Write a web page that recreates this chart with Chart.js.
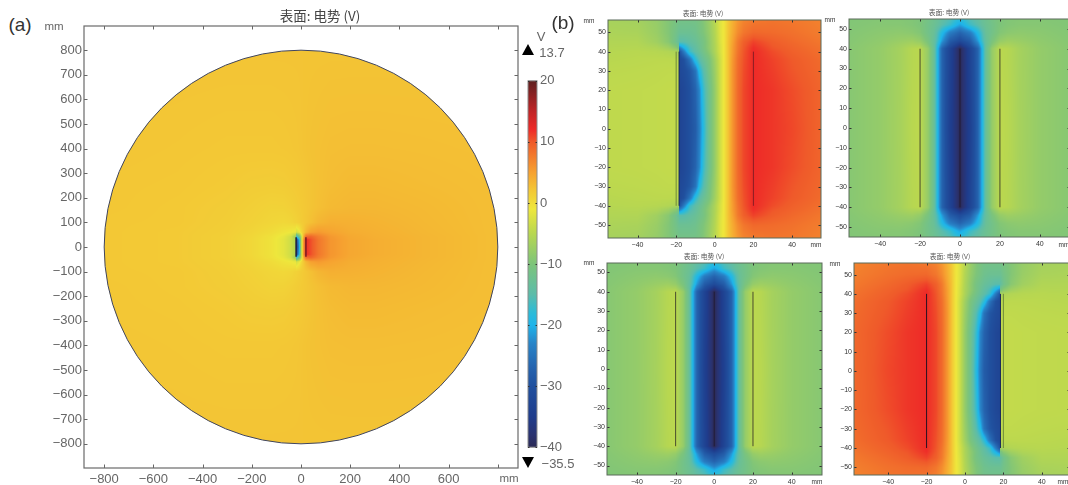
<!DOCTYPE html>
<html>
<head>
<meta charset="utf-8">
<title>表面: 电势 (V)</title>
<script src="https://cdn.jsdelivr.net/npm/chart.js@4"></script>
<style>
  html, body { margin: 0; padding: 0; background: #fff; }
  body { position: relative; width: 1068px; height: 485px; overflow: hidden; font-family: "Liberation Sans", sans-serif; }
  canvas { position: absolute; }
  .txt { position: absolute; white-space: nowrap; transform: translate(-50%, -50%); line-height: 1; }
  .tri { position: absolute; width: 0; height: 0; border-left: 6.5px solid transparent; border-right: 6.5px solid transparent; }
</style>
</head>
<body>
<script>
// ---- colour scale (V) ----
const colorValues = [-40, -38, -35, -30, -27, -23, -20, -18, -15, -10, -5, -1, 2, 5, 10, 12, 15, 20];
const colorHexes = ["#2b2a55", "#2a3270", "#1f3c8c", "#20509e", "#2563ae", "#2884c8", "#1eb4ea", "#2cbbd8", "#5cbcaa", "#7dc47a", "#b8d750", "#eee73c", "#f3c835", "#f6a130", "#ef5a2a", "#ee2a28", "#c02426", "#5e2020"];
const colorBarTicks = [-40, -30, -20, -10, 0, 10, 20];

// ---- tick labels ----
const mainXTicks = [-800, -600, -400, -200, 0, 200, 400, 600, 800];
const mainYTicks = [-800, -700, -600, -500, -400, -300, -200, -100, 0, 100, 200, 300, 400, 500, 600, 700, 800];
const smallXTicks = [-40, -20, 0, 20, 40];
const smallYTicks = [-50, -40, -30, -20, -10, 0, 10, 20, 30, 40, 50];
const plateEnds = [-40, 40];

// ---- (a) disc, upper half ----
const discX = [-800, -500, -300, -200, -120, -70, -40, -19, -19, -7, 0, 8, 20, 40, 70, 120, 200, 300, 500, 800];
const discY = [0, 30, 42, 60, 100, 160, 250, 400, 800];
const discV = [
  [2.0, 1.8, 1.3, 0.5, -0.5, -1.8, -3.5, -6, -33, -21, -7, 4, 12, 10.5, 8, 5.8, 4.5, 4.0, 3.4, 2.7],
  [2.0, 1.8, 1.3, 0.5, -0.5, -1.8, -3.5, -6, -31, -19, -7, 4, 12, 10.5, 8, 5.8, 4.5, 4.0, 3.4, 2.7],
  [2.0, 1.8, 1.3, 0.6, -0.4, -1.5, -3.2, -8, -18, -12, -6, 2.5, 9, 9.2, 7.5, 5.6, 4.4, 3.9, 3.4, 2.7],
  [2.0, 1.8, 1.4, 0.8, 0.1, -0.6, -1.0, -1.5, -3, -1.5, 0, 1.5, 3.3, 5, 5.5, 4.8, 4.1, 3.8, 3.3, 2.7],
  [2.0, 1.9, 1.5, 1.1, 0.7, 0.5, 0.7, 1.1, 1.1, 1.4, 1.6, 1.8, 2.1, 2.6, 3.4, 3.9, 3.8, 3.6, 3.2, 2.7],
  [2.1, 1.9, 1.6, 1.3, 1.0, 1.05, 1.3, 1.55, 1.55, 1.7, 1.8, 1.9, 2.05, 2.3, 2.65, 3.1, 3.3, 3.3, 3.1, 2.7],
  [2.1, 2.0, 1.8, 1.6, 1.55, 1.6, 1.75, 1.85, 1.85, 1.95, 2.0, 2.05, 2.15, 2.3, 2.55, 2.85, 3.05, 3.05, 2.9, 2.7],
  [2.2, 2.1, 2.0, 2.0, 2.0, 2.05, 2.1, 2.15, 2.15, 2.2, 2.25, 2.3, 2.35, 2.45, 2.55, 2.7, 2.75, 2.75, 2.7, 2.6],
  [2.3, 2.3, 2.3, 2.3, 2.3, 2.3, 2.3, 2.3, 2.3, 2.3, 2.3, 2.3, 2.3, 2.3, 2.3, 2.3, 2.3, 2.3, 2.3, 2.3]
];

// ---- (b) left/right excited plates (upper half) ----
const sideX = [-58, -40, -30, -24, -20, -18.5, -18.5, -16, -13, -10, -8, -6, -3, 0, 3, 5, 7, 9, 12, 15, 20, 30, 40, 58];
const sideY = [0, 20, 30, 36, 40, 42, 45, 50, 58];
const sideV = [
  [-4.5, -4.4, -4.3, -4.2, -4.2, -4.2, -33, -32, -30, -28, -24, -19, -12, -8, -3, -0.5, 2.5, 5.5, 9, 10.8, 12, 11.5, 10.8, 9],
  [-4.5, -4.4, -4.3, -4.2, -4.2, -4.2, -33, -32, -30, -27, -23, -17.5, -12, -8, -3, -0.5, 2.5, 5.5, 9, 10.8, 12, 11.5, 10.6, 9],
  [-4.7, -4.6, -4.5, -4.4, -4.4, -4.4, -32, -31, -29, -25, -19, -15.5, -11, -7.5, -3, -0.5, 2.5, 5.5, 8.8, 10.6, 12, 11.2, 10.2, 8.8],
  [-5, -4.8, -4.7, -4.7, -4.8, -4.8, -32, -30, -25, -18, -15, -13, -10.5, -7, -3, -0.5, 2.5, 5.3, 8.6, 10.4, 12, 11, 10, 8.6],
  [-5.2, -5, -5.2, -5.5, -6, -6.5, -30, -24, -17, -14.5, -13, -11.5, -9, -6, -2.5, -0.5, 2.5, 5, 8.2, 10.2, 12, 10.6, 9.6, 8.3],
  [-5.4, -5.3, -5.8, -7, -9, -11, -24, -20, -16, -14, -12.5, -11, -8.5, -6, -2.5, -0.5, 2.5, 5, 8, 10, 11.8, 10.2, 9.4, 8.1],
  [-5.6, -5.6, -7, -9, -12, -14, -15, -15, -14, -13, -12, -11, -8.5, -5.8, -2.2, -0.5, 2.5, 4.6, 7.8, 9.6, 11, 9.8, 9, 7.8],
  [-6, -6.2, -7.6, -9.5, -11.5, -12.5, -12.5, -12.5, -12.5, -12, -11, -10, -8, -5.5, -2, -0.5, 2.2, 4, 6.5, 8, 9, 8.8, 8.4, 7.4],
  [-6.5, -6.8, -8, -9.5, -10.5, -11, -11, -11, -11, -11, -10.5, -9.5, -7.5, -5, -2, -0.5, 2, 3.5, 5.5, 6.8, 7.5, 8, 7.8, 7]
];

// ---- (b) centre excited plate (one quadrant) ----
const midX = [0, 1.5, 5, 9, 11, 13, 16, 20, 24, 30, 40, 58];
const midY = [0, 40, 42, 44, 48, 52, 58];
const midV = [
  [-40, -38, -34, -27, -20, -13, -8, -4.6, -5, -6.5, -8, -9.3],
  [-40, -38, -33, -27, -20, -13, -8, -4.8, -5.2, -6.6, -8, -9.3],
  [-36, -34, -30, -24, -18.5, -13.5, -9.5, -6.5, -6.2, -7, -8.2, -9.3],
  [-31, -30, -28, -21.5, -17, -13.5, -10.5, -8, -7.2, -7.6, -8.4, -9.4],
  [-27, -26, -24, -19, -16, -13, -11.5, -9.5, -8.8, -8.5, -8.8, -9.5],
  [-21, -20, -17, -15, -13.5, -12.5, -11.5, -10, -9.5, -9.2, -9.2, -9.6],
  [-15, -15, -14, -13, -12.5, -12, -11, -10, -9.7, -9.5, -9.5, -9.7]
];

// ---- 共通ユーティリティ ----
const hexRgb = h => [1, 3, 5].map(i => parseInt(h.slice(i, i + 2), 16));
const colorRgbs = colorHexes.map(hexRgb);

function colorOf(v) {
  if (v <= colorValues[0]) return colorRgbs[0];
  for (let i = 1; i < colorValues.length; i++) {
    if (v <= colorValues[i]) {
      const t = (v - colorValues[i - 1]) / (colorValues[i] - colorValues[i - 1]);
      return colorRgbs[i].map((c, k) => colorRgbs[i - 1][k] + (c - colorRgbs[i - 1][k]) * t);
    }
  }
  return colorRgbs[colorRgbs.length - 1];
}

// upper half rows -> full grid (the picture is the same above and below y=0)
function makeField(xs, ys, vals) {
  return {
    xs,
    ys: [...ys.slice(1).map(y => -y).reverse(), ...ys],
    vals: [...vals.slice(1).reverse(), ...vals]
  };
}

const discField = makeField(discX, discY, discV);
const sideField = makeField(sideX, sideY, sideV);
const sideFlipField = makeField(
  sideX.map(x => -x).reverse(), sideY, sideV.map(r => [...r].reverse()));
const midField = makeField(
  [...midX.slice(1).map(x => -x).reverse(), ...midX], midY,
  midV.map(r => [...r.slice(1).reverse(), ...r]));

function findCell(arr, v) {
  let i = 0;
  while (i < arr.length - 2 && arr[i + 1] <= v) i++;
  const w = arr[i + 1] - arr[i];
  return [i, w > 0 ? Math.min(1, Math.max(0, (v - arr[i]) / w)) : 0];
}

// paints the value grid of the first dataset through the chart's own scales
const fieldPlugin = {
  id: "fieldPlugin",
  beforeDatasetsDraw(chart) {
    const field = chart.data.datasets[0].field;
    if (!field) return;
    const { ctx, chartArea: a, scales: { x: sx, y: sy } } = chart;
    const w = Math.ceil(a.width), h = Math.ceil(a.height);
    const off = document.createElement("canvas");
    off.width = w; off.height = h;
    const octx = off.getContext("2d");
    const img = octx.createImageData(w, h);
    const cols = [];
    for (let px = 0; px < w; px++) cols.push(findCell(field.xs, sx.getValueForPixel(a.left + px + 0.5)));
    let n = 0;
    for (let py = 0; py < h; py++) {
      const [j, tj] = findCell(field.ys, sy.getValueForPixel(a.top + py + 0.5));
      const r0 = field.vals[j], r1 = field.vals[j + 1];
      for (let px = 0; px < w; px++) {
        const [i, ti] = cols[px];
        const v0 = r0[i] + (r0[i + 1] - r0[i]) * ti;
        const v1 = r1[i] + (r1[i + 1] - r1[i]) * ti;
        const c = colorOf(v0 + (v1 - v0) * tj);
        img.data[n++] = c[0]; img.data[n++] = c[1]; img.data[n++] = c[2]; img.data[n++] = 255;
      }
    }
    octx.putImageData(img, 0, 0);
    ctx.save();
    const disc = chart.data.datasets[0].discRadius;
    if (disc) {
      const cx = sx.getPixelForValue(0), cy = sy.getPixelForValue(0);
      const r = sx.getPixelForValue(disc) - cx;
      ctx.beginPath();
      ctx.arc(cx, cy, r, 0, Math.PI * 2);
      ctx.clip();
      ctx.drawImage(off, a.left, a.top);
      ctx.restore();
      ctx.save();
      ctx.beginPath();
      ctx.arc(cx, cy, r, 0, Math.PI * 2);
      ctx.strokeStyle = "#3f4560";
      ctx.lineWidth = 1;
      ctx.stroke();
    } else {
      ctx.beginPath();
      ctx.rect(a.left, a.top, a.width, a.height);
      ctx.clip();
      ctx.drawImage(off, a.left, a.top);
    }
    ctx.restore();
  }
};

// frame and inward ticks on all four sides
const framePlugin = {
  id: "framePlugin",
  afterDatasetsDraw(chart, args, opts) {
    const { ctx, chartArea: a, scales: { x: sx, y: sy } } = chart;
    const len = opts.tickLen;
    ctx.save();
    ctx.strokeStyle = opts.tickColor;
    ctx.lineWidth = 1;
    ctx.beginPath();
    sx.ticks.forEach(t => {
      const p = Math.round(sx.getPixelForValue(t.value)) + 0.5;
      ctx.moveTo(p, a.top); ctx.lineTo(p, a.top + len);
      ctx.moveTo(p, a.bottom); ctx.lineTo(p, a.bottom - len);
    });
    sy.ticks.forEach(t => {
      const p = Math.round(sy.getPixelForValue(t.value)) + 0.5;
      ctx.moveTo(a.left, p); ctx.lineTo(a.left + len, p);
      ctx.moveTo(a.right, p); ctx.lineTo(a.right - len, p);
    });
    ctx.stroke();
    ctx.strokeStyle = opts.color;
    ctx.lineWidth = opts.width;
    ctx.strokeRect(a.left, a.top, a.width, a.height);
    ctx.restore();
  }
};

const minusLabel = v => String(v).replace("-", "\u2212");

function plateSets(plates) {
  return plates.map(p => ({
    type: "scatter",
    showLine: true,
    data: plateEnds.map(y => ({ x: p.x, y })),
    borderColor: p.color,
    borderWidth: p.width,
    pointRadius: 0
  }));
}

// one framed panel; box is the plot area in page pixels
function makePanel(box, xr, yr, xTicks, yTicks, field, plates, look) {
  const padL = 50, padR = 20, padT = 10, padB = 24;
  const cv = document.createElement("canvas");
  cv.width = box.w + padL + padR;
  cv.height = box.h + padT + padB;
  cv.style.left = (box.x - padL) + "px";
  cv.style.top = (box.y - padT) + "px";
  document.body.appendChild(cv);
  const cells = [];
  field.ys.forEach((y, j) => field.xs.forEach((x, i) => cells.push({ x, y, v: field.vals[j][i] })));
  return new Chart(cv, {
    type: "scatter",
    plugins: [fieldPlugin, framePlugin],
    data: {
      datasets: [
        { label: "电势", data: cells, pointRadius: 0, field, discRadius: look.disc || 0 },
        ...plateSets(plates)
      ]
    },
    options: {
      responsive: false,
      animation: false,
      events: [],
      layout: { padding: { top: padT, right: padR, left: 0, bottom: 0 } },
      plugins: {
        legend: { display: false },
        tooltip: { enabled: false },
        framePlugin: { tickLen: look.tickLen, tickColor: look.tickColor, color: look.frame, width: look.frameW }
      },
      scales: {
        x: {
          type: "linear", min: xr[0], max: xr[1],
          grid: { display: false, drawTicks: false }, border: { display: false },
          afterBuildTicks: s => { s.ticks = xTicks.map(value => ({ value })); },
          afterFit: s => { s.height = padB; },
          ticks: {
            autoSkip: false, maxRotation: 0, padding: look.padX,
            color: look.labelColor, font: { family: "Liberation Sans", size: look.fontSize },
            callback: v => (xTicks === mainXTicks && v === 800) ? "" : minusLabel(v)
          }
        },
        y: {
          type: "linear", min: yr[0], max: yr[1],
          grid: { display: false, drawTicks: false }, border: { display: false },
          afterBuildTicks: s => { s.ticks = yTicks.map(value => ({ value })); },
          afterFit: s => { s.width = padL; },
          ticks: {
            autoSkip: false, padding: look.padY,
            color: look.labelColor, font: { family: "Liberation Sans", size: look.fontSize },
            callback: v => minusLabel(v)
          }
        }
      }
    }
  });
}

function addText(text, x, y, size, color, family) {
  const el = document.createElement("div");
  el.className = "txt";
  el.textContent = text;
  el.style.left = x + "px";
  el.style.top = y + "px";
  el.style.fontSize = size + "px";
  el.style.color = color;
  if (family) el.style.fontFamily = family;
  document.body.appendChild(el);
}

const cjk = '"Noto Sans CJK SC", sans-serif';
const mainLook = { disc: 800, tickLen: 3.5, tickColor: "#666", frame: "#6a6a6a", frameW: 1.2, labelColor: "#666", fontSize: 13, padX: 4, padY: 2 };
const smallLook = { tickLen: 2.5, tickColor: "#333", frame: "#5a6a5a", frameW: 1, labelColor: "#333", fontSize: 7, padX: 3, padY: 2 };

// (a)
makePanel({ x: 84, y: 26, w: 434, h: 442 }, [-882, 882], [-898, 898], mainXTicks, mainYTicks, discField,
  [{ x: -20, color: "#20203a", width: 1.5 }, { x: 20, color: "#7a1c20", width: 1.5 }], mainLook);

// (b)
const darkPlate = "rgba(50,50,40,0.85)";
makePanel({ x: 608, y: 20, w: 213, h: 218 }, [-55.3, 55], [-56.7, 56.4], smallXTicks, smallYTicks, sideField,
  [{ x: -20, color: "#6f8a3a", width: 1 }, { x: -18.5, color: "#1c2a5a", width: 1 }, { x: 20, color: "#8a1f24", width: 1 }], smallLook);
makePanel({ x: 849, y: 19, w: 221, h: 218 }, [-55.6, 55.1], [-55, 55], smallXTicks, smallYTicks, midField,
  [{ x: -20, color: darkPlate, width: 1 }, { x: 0, color: "#241f3f", width: 1.2 }, { x: 20, color: darkPlate, width: 1 }], smallLook);
makePanel({ x: 607, y: 263, w: 215, h: 212 }, [-55.5, 55.7], [-54.9, 54.9], smallXTicks, smallYTicks, midField,
  [{ x: -20, color: darkPlate, width: 1 }, { x: 0, color: "#241f3f", width: 1.2 }, { x: 20, color: darkPlate, width: 1 }], smallLook);
makePanel({ x: 854, y: 263, w: 216, h: 212 }, [-57.8, 54.7], [-54, 56], smallXTicks, smallYTicks, sideFlipField,
  [{ x: -20, color: "#2a1420", width: 1 }, { x: 18.5, color: "#1c2a5a", width: 1 }, { x: 20, color: "#6f8a3a", width: 1 }], smallLook);

// colour bar
(function () {
  const padL = 4, padR = 40, padT = 10, padB = 10;
  const box = { x: 528, y: 80, w: 9, h: 368 };
  const cv = document.createElement("canvas");
  cv.width = box.w + padL + padR;
  cv.height = box.h + padT + padB;
  cv.style.left = (box.x - padL) + "px";
  cv.style.top = (box.y - padT) + "px";
  document.body.appendChild(cv);
  const barPlugin = {
    id: "barPlugin",
    beforeDatasetsDraw(chart) {
      const { ctx, chartArea: a, scales: { y } } = chart;
      const g = ctx.createLinearGradient(0, y.getPixelForValue(-40), 0, y.getPixelForValue(20));
      colorValues.forEach((v, i) => g.addColorStop((v + 40) / 60, colorHexes[i]));
      ctx.save();
      ctx.fillStyle = g;
      ctx.fillRect(a.left, a.top, a.width, a.height);
      ctx.strokeStyle = "#8c8c8c";
      ctx.lineWidth = 1;
      ctx.strokeRect(a.left, a.top, a.width, a.height);
      ctx.strokeStyle = "#333";
      ctx.beginPath();
      colorBarTicks.forEach(v => {
        const p = Math.round(y.getPixelForValue(v)) + 0.5;
        ctx.moveTo(a.left, p); ctx.lineTo(a.left + 1.5, p);
        ctx.moveTo(a.right, p); ctx.lineTo(a.right - 1.5, p);
      });
      ctx.stroke();
      ctx.restore();
    }
  };
  new Chart(cv, {
    type: "scatter",
    plugins: [barPlugin],
    data: { datasets: [{ data: colorValues.map(v => ({ x: 0, y: v })), pointRadius: 0 }] },
    options: {
      responsive: false,
      animation: false,
      events: [],
      layout: { padding: { top: padT, bottom: padB, left: padL, right: 0 } },
      plugins: { legend: { display: false }, tooltip: { enabled: false } },
      scales: {
        x: { display: false, min: -1, max: 1 },
        y: {
          type: "linear", position: "right", min: -40, max: 20,
          grid: { display: false, drawTicks: false }, border: { display: false },
          afterBuildTicks: s => { s.ticks = colorBarTicks.map(value => ({ value })); },
          afterFit: s => { s.width = padR; },
          ticks: { autoSkip: false, padding: 3, color: "#666", font: { family: "Liberation Sans", size: 13 }, callback: v => minusLabel(v) }
        }
      }
    }
  });
})();

// triangles marking the max / min of the data
const up = document.createElement("div");
up.className = "tri";
up.style.cssText = "left:522px;top:44px;border-bottom:11px solid #000;";
document.body.appendChild(up);
const down = document.createElement("div");
down.className = "tri";
down.style.cssText = "left:522px;top:457px;border-top:11px solid #000;";
document.body.appendChild(down);

// free text
addText("(a)", 20, 24, 19, "#333");
addText("(b)", 563, 22, 19, "#333");
addText("表面: 电势 (V)", 320, 16, 13.5, "#444", cjk);
addText("mm", 54, 27, 11.5, "#666");
addText("mm", 509, 479, 11.5, "#666");
addText("V", 541, 36, 13, "#666");
addText("13.7", 552, 52, 13, "#666");
addText("\u221235.5", 558, 463, 13, "#666");

addText("表面: 电势 (V)", 703, 12.5, 6.8, "#555", cjk);
addText("表面: 电势 (V)", 949, 12, 6.8, "#555", cjk);
addText("表面: 电势 (V)", 704, 255.5, 6.8, "#555", cjk);
addText("表面: 电势 (V)", 950, 256, 6.8, "#555", cjk);
addText("mm", 589, 20.5, 6.5, "#333");
addText("mm", 830, 20, 6.5, "#333");
addText("mm", 589, 263, 6.5, "#333");
addText("mm", 835, 264, 6.5, "#333");
addText("mm", 816, 245, 6.5, "#333");
addText("mm", 1064, 245, 6.5, "#333");
addText("mm", 817, 482, 6.5, "#333");
addText("mm", 1063, 482, 6.5, "#333");
</script>
</body>
</html>
